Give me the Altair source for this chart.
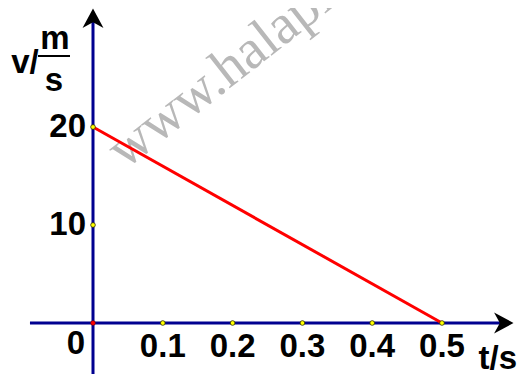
import altair as alt
import pandas as pd

# ---- data ----
t_values = [0.0, 0.5]          # s
v_values = [20.0, 0.0]         # m/s
x_ticks = [0.1, 0.2, 0.3, 0.4, 0.5]
x_tick_labels = ["0.1", "0.2", "0.3", "0.4", "0.5"]
y_ticks = [10, 20]
y_tick_labels = ["10", "20"]

W, H = 512, 366
X_DOM = [-0.12178, 0.61175]
Y_DOM = [-5.204, 32.143]

xs = alt.Scale(domain=X_DOM, nice=False, zero=False)
ys = alt.Scale(domain=Y_DOM, nice=False, zero=False)

def X(f="x"):
    return alt.X(f"{f}:Q", scale=xs, axis=None)

def Y(f="y"):
    return alt.Y(f"{f}:Q", scale=ys, axis=None)

NAVY = "#000090"
FONT = "Liberation Sans"
FS = 33

# watermark
wm = alt.Chart(pd.DataFrame({"x": [0.0458], "y": [15.61], "t": ["www.halapian.com"]})).mark_text(
    font="Liberation Serif", fontSize=56, color="#b8b8b8", angle=322, align="left", baseline="alphabetic"
).encode(x=X(), y=Y(), text="t:N")

# axes lines
xaxis = alt.Chart(pd.DataFrame({"x": [-0.0903], "x2": [0.59], "y": [0]})).mark_rule(
    color=NAVY, strokeWidth=3
).encode(x=X(), x2="x2:Q", y=Y())
yaxis = alt.Chart(pd.DataFrame({"x": [0], "y": [Y_DOM[0]], "y2": [31.4]})).mark_rule(
    color=NAVY, strokeWidth=3
).encode(x=X(), y=Y(), y2="y2:Q")

up_path = "M0,-1L1,0.85L0,0.3L-1,0.85Z"
right_path = "M1,0L-0.85,-1L-0.3,0L-0.85,1Z"
arrow_up = alt.Chart(pd.DataFrame({"x": [0], "y": [31.02]})).mark_point(
    shape=up_path, size=441, filled=True, color="black", opacity=1, strokeWidth=0
).encode(x=X(), y=Y())
arrow_right = alt.Chart(pd.DataFrame({"x": [0.5874], "y": [0]})).mark_point(
    shape=right_path, size=441, filled=True, color="black", opacity=1, strokeWidth=0
).encode(x=X(), y=Y())

# red line
line = alt.Chart(pd.DataFrame({"x": t_values, "y": v_values})).mark_line(
    color="#ff0000", strokeWidth=3
).encode(x=X(), y=Y())

# tick dots
dots_df = pd.DataFrame({"x": x_ticks + [0] * len(y_ticks), "y": [0] * len(x_ticks) + y_ticks})
dots = alt.Chart(dots_df).mark_point(
    shape="circle", size=22, filled=True, fill="#ffff00", stroke="#333300", strokeWidth=0.8, opacity=1
).encode(x=X(), y=Y())
origin = alt.Chart(pd.DataFrame({"x": [0], "y": [0]})).mark_point(
    shape="circle", size=22, filled=True, fill="#ff0000", stroke="#800000", strokeWidth=0.6, opacity=1
).encode(x=X(), y=Y())

# tick labels
xl = alt.Chart(pd.DataFrame({"x": x_ticks, "y": [0] * 5, "t": x_tick_labels})).mark_text(
    font=FONT, fontSize=FS, fontWeight="bold", color="black", align="center", baseline="middle", dy=24
).encode(x=X(), y=Y(), text="t:N")
yl = alt.Chart(pd.DataFrame({"x": [0] * 2, "y": y_ticks, "t": y_tick_labels})).mark_text(
    font=FONT, fontSize=FS, fontWeight="bold", color="black", align="right", baseline="middle", dx=-7
).encode(x=X(), y=Y(), text="t:N")
zl = alt.Chart(pd.DataFrame({"x": [0], "y": [0], "t": ["0"]})).mark_text(
    font=FONT, fontSize=FS, fontWeight="bold", color="black", align="right", baseline="middle", dx=-8, dy=21
).encode(x=X(), y=Y(), text="t:N")

# axis titles
ts = alt.Chart(pd.DataFrame({"t": ["t/s"]})).mark_text(
    font=FONT, fontSize=FS, fontWeight="bold", color="black", align="right", baseline="middle"
).encode(x=alt.value(509), y=alt.value(351), text="t:N")
vtitle = alt.Chart(pd.DataFrame({"t": ["v/"]})).mark_text(
    font=FONT, fontSize=FS, fontWeight="bold", color="black", align="center", baseline="middle"
).encode(x=alt.value(17), y=alt.value(55), text="t:N")
mtitle = alt.Chart(pd.DataFrame({"t": ["m"]})).mark_text(
    font=FONT, fontSize=FS, fontWeight="bold", color="black", align="center", baseline="middle"
).encode(x=alt.value(47), y=alt.value(31), text="t:N")
stitle = alt.Chart(pd.DataFrame({"t": ["s"]})).mark_text(
    font=FONT, fontSize=FS, fontWeight="bold", color="black", align="center", baseline="middle"
).encode(x=alt.value(46), y=alt.value(73), text="t:N")
bar = alt.Chart(pd.DataFrame({"a": [1]})).mark_rule(color="black", strokeWidth=2).encode(
    x=alt.value(30), x2=alt.value(62), y=alt.value(48)
)

chart = alt.layer(
    wm, xaxis, yaxis, line, arrow_up, arrow_right, dots, origin, xl, yl, zl, ts, vtitle, mtitle, stitle, bar
).properties(width=W, height=H, padding=0, autosize=alt.AutoSizeParams(type="none"), background="white"
).configure_view(stroke=None)

chart.save("out.html", embed_options={"renderer": "svg", "actions": False})
